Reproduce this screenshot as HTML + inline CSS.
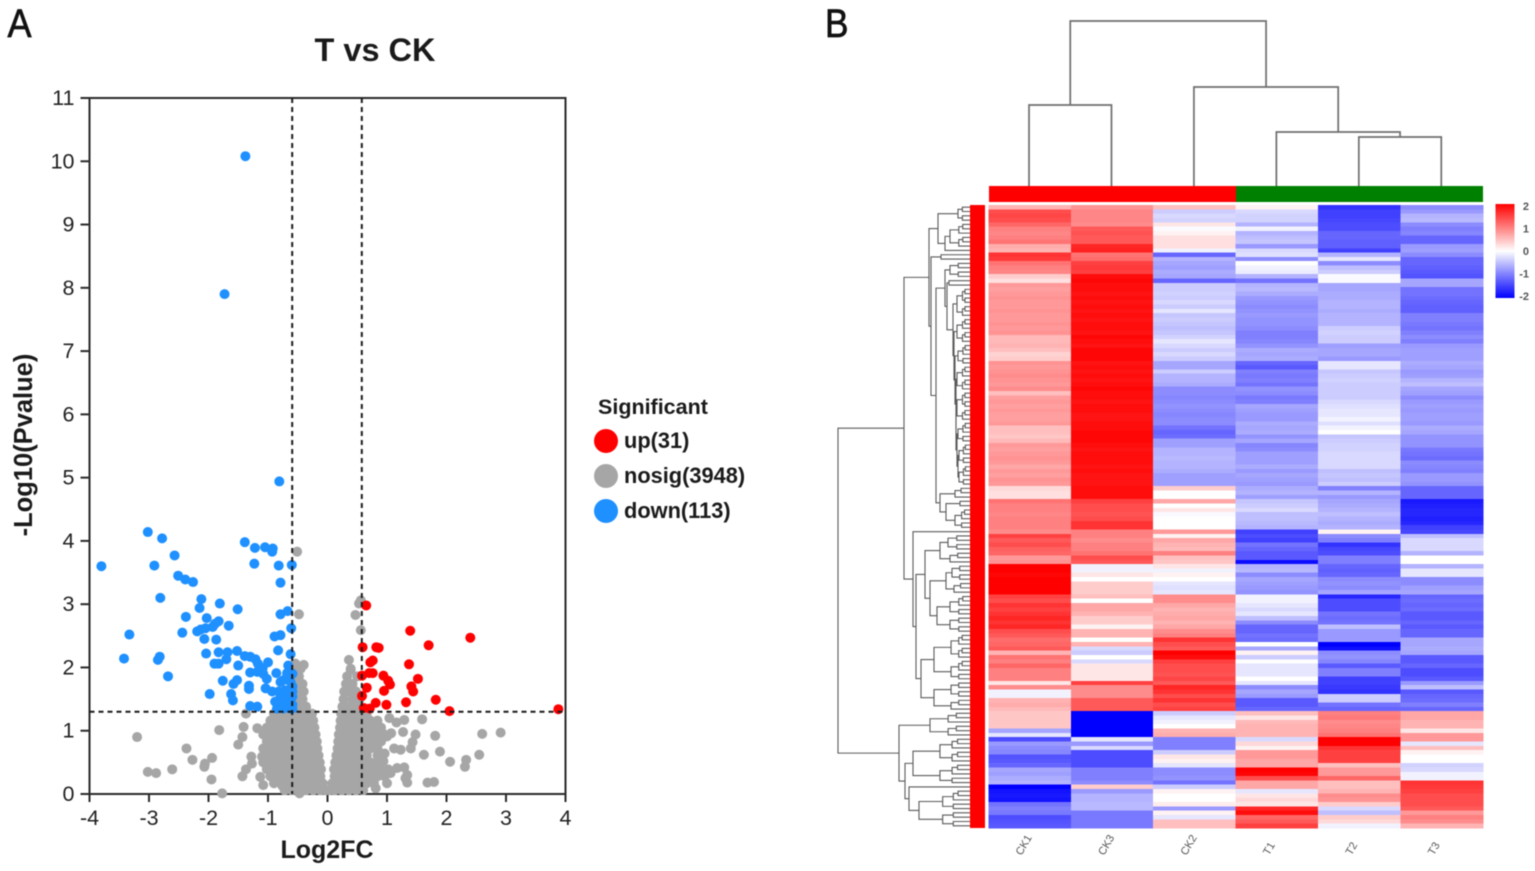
<!DOCTYPE html>
<html lang="en">
<head>
<meta charset="utf-8">
<title>Volcano plot and heatmap: T vs CK</title>
<style>
html,body{margin:0;padding:0;background:#fff;}
svg{display:block;filter:blur(0.55px);}
text{font-family:"Liberation Sans",sans-serif;}
</style>
</head>
<body>
<svg id="figure" width="1535" height="871" viewBox="0 0 1535 871" xmlns="http://www.w3.org/2000/svg">
  <defs>
    <linearGradient id="cbar" x1="0" y1="0" x2="0" y2="1">
      <stop offset="0" stop-color="#ff0000"/>
      <stop offset="0.5" stop-color="#ffffff"/>
      <stop offset="1" stop-color="#0000ff"/>
    </linearGradient>
  </defs>
  <text transform="translate(7.5,37) scale(0.9,1)" font-size="40" fill="#111" stroke="#111" stroke-width="0.7">A</text>
  <text transform="translate(825,37) scale(0.88,1)" font-size="40" fill="#111" stroke="#111" stroke-width="0.7">B</text>
  <text x="375" y="61" font-size="32.5" font-weight="bold" text-anchor="middle" fill="#1a1a1a">T vs CK</text>
  <text x="327" y="858" font-size="25" font-weight="bold" text-anchor="middle" fill="#1a1a1a">Log2FC</text>
  <text transform="translate(32,445) rotate(-90)" font-size="25.5" font-weight="bold" text-anchor="middle" fill="#1a1a1a">-Log10(Pvalue)</text>
  <g id="volcano"></g>
  <g>
    <text x="598" y="414" font-size="21.5" font-weight="bold" fill="#1a1a1a">Significant</text>
    <circle cx="606" cy="441" r="12" fill="#ff0000"/>
    <text x="624" y="448" font-size="21.8" font-weight="bold" fill="#1a1a1a">up(31)</text>
    <circle cx="606" cy="476" r="12" fill="#a6a6a6"/>
    <text x="624" y="483" font-size="21.8" font-weight="bold" fill="#1a1a1a">nosig(3948)</text>
    <circle cx="606" cy="511" r="12" fill="#1e90ff"/>
    <text x="624" y="518" font-size="21.8" font-weight="bold" fill="#1a1a1a">down(113)</text>
  </g>
  <g id="heatmap"></g>
  <rect x="970" y="205" width="15" height="623" fill="#ff0000"/>
  <rect x="989" y="186" width="247" height="16" fill="#ff0000"/>
  <rect x="1236" y="186" width="247" height="16" fill="#008000"/>
  <g id="colDendro"></g>
  <g id="rowDendro"></g>
  <rect x="1495.5" y="204" width="19" height="94" fill="url(#cbar)"/>
  <g id="colorbarTicks"></g>
</svg>
<script>
var xTicks = [-4,-3,-2,-1,0,1,2,3,4];
var yTicks = [0,1,2,3,4,5,6,7,8,9,10,11];
var fcThresholds = [-0.585,0.585];
var pThreshold = 1.3;

var upPoints = [[.65,2.98],[1.39,2.58],[2.40,2.47],[1.70,2.35],[.59,2.32],[.82,2.32],[.86,2.31],[.76,2.11],[.72,2.08],[1.37,2.05],[.58,1.87],[.70,1.91],[.76,1.91],[.94,1.87],[1.02,1.79],[1.52,1.82],[1.05,1.73],[.66,1.68],[.95,1.63],[1.41,1.70],[1.44,1.62],[.58,1.55],[1.82,1.49],[.81,1.44],[1.32,1.45],[.99,1.41],[.61,1.36],[.71,1.35],[2.05,1.31],[3.88,1.34]];

var downPoints = [[-1.38,10.08],[-1.73,7.90],[-.81,4.94],[-3.02,4.14],[-2.78,4.04],[-2.57,3.77],[-3.80,3.60],[-2.91,3.61],[-2.51,3.45],[-2.39,3.39],[-2.26,3.35],[-2.81,3.10],[-2.12,3.08],[-2.15,2.94],[-1.81,3.01],[-1.51,2.92],[-2.38,2.80],[-2.03,2.78],[-1.83,2.73],[-1.89,2.69],[-1.93,2.64],[-2.05,2.62],[-2.13,2.60],[-2.19,2.57],[-2.44,2.55],[-1.66,2.66],[-3.33,2.52],[-2.07,2.45],[-1.87,2.44],[-3.42,2.14],[-2.82,2.17],[-2.85,2.12],[-2.68,1.86],[-2.04,2.22],[-1.83,2.24],[-1.68,2.24],[-1.52,2.26],[-1.70,2.13],[-1.90,2.06],[-1.83,2.06],[-1.50,2.03],[-1.39,2.18],[-1.30,2.17],[-1.21,2.13],[-1.17,2.06],[-1.09,1.99],[-1.00,2.08],[-1.30,1.92],[-1.18,1.93],[-1.08,1.90],[-1.02,1.82],[-.86,1.91],[-1.76,1.79],[-1.52,1.80],[-1.58,1.74],[-1.32,1.71],[-1.32,1.66],[-1.04,1.67],[-.93,1.62],[-1.98,1.58],[-1.62,1.58],[-1.59,1.48],[-1.30,1.39],[-1.18,1.38],[-1.39,3.98],[-1.22,3.89],[-1.05,3.90],[-.92,3.88],[-.93,3.83],[-1.23,3.64],[-.82,3.61],[-.60,3.62],[-.79,3.34],[-.79,2.84],[-.67,2.89],[-.61,2.62],[-.89,2.49],[-.79,2.51],[-.83,2.27],[-.62,2.21],[-.66,2.03],[-.79,1.77],[-.68,1.91],[-.59,1.90],[-.74,1.80],[-.62,1.77],[-.59,1.70],[-.82,1.62],[-.71,1.64],[-.59,1.62],[-.59,1.54],[-.79,1.54],[-.68,1.51],[-.76,1.43],[-.65,1.43],[-.59,1.41],[-.85,1.35],[-.74,1.35],[-.62,1.35],[-.59,1.35],[-.76,1.48],[-.88,1.46]];

var nosigPoints = [
[-.72,.06],[-.60,.06],[-.48,.06],[-.36,.06],[-.24,.06],[-.12,.06],[-.03,.06],[.03,.06],
[-.90,.17],[-.78,.17],[-.66,.17],[-.54,.17],[-.42,.17],[-.30,.17],[-.18,.17],[-.08,.17],
[-.96,.28],[-.84,.28],[-.72,.28],[-.60,.28],[-.48,.28],[-.36,.28],[-.24,.28],[-.12,.28],
[-1.02,.39],[-.90,.39],[-.78,.39],[-.66,.39],[-.54,.39],[-.42,.39],[-.30,.39],[-.18,.39],[-.11,.39],
[-1.08,.50],[-.96,.50],[-.84,.50],[-.72,.50],[-.60,.50],[-.48,.50],[-.36,.50],[-.24,.50],[-.13,.50],
[-1.02,.61],[-.90,.61],[-.78,.61],[-.66,.61],[-.54,.61],[-.42,.61],[-.30,.61],[-.18,.61],[-.15,.61],
[-1.08,.72],[-.96,.72],[-.84,.72],[-.72,.72],[-.60,.72],[-.48,.72],[-.36,.72],[-.24,.72],[-.17,.72],
[-1.02,.83],[-.90,.83],[-.78,.83],[-.66,.83],[-.54,.83],[-.42,.83],[-.30,.83],[-.18,.83],
[-1.08,.94],[-.96,.94],[-.84,.94],[-.72,.94],[-.60,.94],[-.48,.94],[-.36,.94],[-.24,.94],[-.20,.94],
[-1.02,1.05],[-.90,1.05],[-.78,1.05],[-.66,1.05],[-.54,1.05],[-.42,1.05],[-.30,1.05],[-.22,1.05],
[-.96,1.16],[-.84,1.16],[-.72,1.16],[-.60,1.16],[-.48,1.16],[-.36,1.16],[-.24,1.16],
[-.90,1.27],[-.78,1.27],[-.66,1.27],[-.54,1.27],[-.42,1.27],[-.30,1.27],[-.26,1.27],
[-.60,1.38],[-.48,1.38],[-.36,1.38],[-.54,1.5],[-.42,1.5],[-.60,1.62],[-.48,1.62],[-.40,1.62],
[-.54,1.74],[-.42,1.74],[-.60,1.86],[-.48,1.86],[-.55,1.98],[-.45,1.98],[-.54,2.06],[-.40,2.04],
[-1.37,1.27],[-1.41,1.06],[-1.43,.90],[-1.50,.78],[-1.28,.59],[-1.27,.48],[-1.37,.39],[-1.43,.28],[-1.13,.27],[-1.08,.14],[-.76,.13],[-1.18,1.04],[-1.10,.59],[-.47,.01],[-1.77,.01],[-1.95,.23],[-2.06,.48],[-2.07,.43],[-1.94,.57],[-2.27,.54],[-2.37,.72],[-2.61,.39],[-2.88,.33],[-3.02,.35],[-3.20,.90],[-1.82,1.01],[-.51,3.83],[-.48,2.84],
[.12,.06],[.24,.06],[.36,.06],[.48,.06],[.60,.06],[.81,.09],
[.08,.17],[.18,.17],[.30,.17],[.42,.17],[.54,.17],[.66,.17],[.78,.17],
[.12,.28],[.24,.28],[.36,.28],[.48,.28],[.60,.28],[.72,.28],[.84,.28],[.96,.28],
[.11,.39],[.18,.39],[.30,.39],[.42,.39],[.54,.39],[.66,.39],[.78,.39],[.90,.39],[1.02,.39],
[.13,.50],[.24,.50],[.36,.50],[.48,.50],[.60,.50],[.72,.50],[.84,.50],[.94,.52],
[.15,.61],[.30,.61],[.42,.61],[.54,.61],[.66,.61],[.84,.61],[.96,.64],
[.17,.72],[.24,.72],[.36,.72],[.48,.72],[.60,.72],[.72,.72],[.84,.72],
[.18,.83],[.30,.83],[.42,.83],[.54,.83],[.66,.83],[.78,.83],[.90,.83],
[.19,.94],[.24,.94],[.36,.94],[.48,.94],[.60,.94],[.72,.94],[.84,.94],[.96,.94],
[.21,1.05],[.30,1.05],[.42,1.05],[.54,1.05],[.66,1.05],[.78,1.05],[.90,1.05],
[.22,1.16],[.36,1.16],[.48,1.16],[.60,1.16],[.72,1.16],[.84,1.16],
[.23,1.27],[.30,1.27],[.42,1.27],[.54,1.27],[.66,1.27],
[.25,1.38],[.36,1.38],[.48,1.38],[.27,1.5],[.42,1.5],[.54,1.5],[.28,1.62],[.36,1.62],[.48,1.62],
[.31,1.74],[.42,1.74],[.33,1.86],[.50,1.86],[.39,1.98],
[1.04,1.20],[1.16,1.13],[1.29,1.17],[1.59,1.18],[1.27,.98],[1.48,.94],[1.81,.92],[2.60,.95],[2.91,.97],[1.07,.96],[1.0,.91],[1.43,.82],[1.40,.72],[1.12,.72],[1.23,.70],[1.62,.62],[1.89,.67],[2.06,.51],[2.33,.54],[2.31,.43],[2.55,.62],[1.29,.42],[1.34,.30],[1.34,.18],[1.68,.18],[1.79,.19],[1.06,.33],[1.0,.17],[1.17,.41],[1.31,.25],
[.56,3.06],[.53,3.01],[.47,2.83],[.56,2.59],[.36,2.12],[.39,1.96]
];

var sampleLabels = ["CK1","CK3","CK2","T1","T2","T3"];
var colorbarLabels = [2,1,0,-1,-2];

var valuesCK1 = [
.6,1.4,1.45,1.4,1.2,1.0,.95,1.0,1.1,.65,
.6,1.6,1.55,1.1,1.0,.95,.4,.25,.8,.75,
.8,.85,.8,.8,.85,.8,.8,.85,.8,.85,
.55,.55,.6,.5,.35,.4,.85,.8,.85,.9,
.85,.8,.9,.5,.75,.8,.75,.8,.75,.75,
.8,.5,.5,.45,.55,.8,.75,.8,.85,.8,
.7,.8,.75,.85,.8,.3,.25,.25,1.1,1.0,
1.0,.95,1.0,1.0,1.0,.9,1.5,1.3,1.4,1.25,
1.2,.8,.85,2,2,1.95,2,2,2,2,
1.5,1.4,1.6,1.5,1.6,1.7,1.6,1.7,1.4,1.3,
1.15,1.2,1.3,.6,1.1,1.0,1.2,1.0,1.0,1.0,
.2,.9,-.1,-.1,.6,.65,.55,.45,.45,.45,
.45,-.7,-.2,-1.4,-.8,-.9,-.95,-1.35,-1.3,-1.2,
-.7,-.75,-.65,-.6,-2,-1.85,-1.8,-1.85,-1.1,-1,
-1.05,-1.4,-1.35,-1.3];
var valuesCK3 = [
.85,.95,.95,.95,.9,1.3,1.35,1.3,1.3,1.7,
1.75,1.1,1.15,1.5,1.55,1.5,1.9,1.95,1.9,1.9,
1.85,1.9,1.85,1.9,1.85,1.9,1.85,1.9,1.9,1.85,
1.95,1.9,1.85,1.95,1.95,1.95,1.85,1.9,1.85,1.9,
1.85,1.9,1.95,1.9,1.9,1.85,1.9,1.9,1.85,1.85,
1.9,1.9,1.95,1.95,1.95,1.9,1.85,1.9,1.9,1.9,
1.85,1.9,1.85,1.85,1.85,1.9,1.9,1.9,1.5,1.4,
1.4,1.35,1.4,1.6,1.6,1.0,1.0,.9,1.0,1.0,
1.1,1.4,1.3,-.1,-.1,.2,0,.4,.4,.4,
.5,0,.7,.7,.6,.4,.4,.1,.6,.6,
0,.6,-.3,-.4,0,-.3,.2,.2,.2,.2,
1.5,.9,.9,.9,1.3,1.3,1.3,-2,-2,-2,
-2,-2,-2,-.2,-.8,-.3,-1.4,-1.4,-1.4,-1.4,
-1,-1,-1,-.9,.4,-.8,-.6,-.6,-.55,-.55,
-1.05,-1.05,-1.05,-1.05];
var valuesCK2 = [
.5,-.4,-.3,-.35,.2,-.03,.1,.25,.25,.25,
-.1,-1.2,-.6,-.7,-.75,-.65,-.7,-1.2,-.4,-.4,
-.35,-.4,-.3,-.4,-.2,-.45,-.4,-.45,-.5,-.45,
-.35,-.2,-.3,-.4,-.3,-.4,-.7,-.7,-.4,-.6,
-.6,-.65,-.9,-.9,-.95,-.9,-.85,-.9,-.95,-.9,
-.9,-1.1,-1.2,-1.15,-.75,-.75,-.6,-.6,-.55,-.6,
-.6,-.65,-.75,-.75,-.75,.4,0,0,.7,0,
.2,-.05,0,0,0,.8,.1,.7,.6,.55,
1.0,.5,.45,.2,-.1,.1,0,-.2,-.25,-.2,
.9,.9,.7,.6,.65,.7,.6,.7,.9,1.0,
1.6,1.4,1.3,2,1.9,1.5,1.4,1.4,1.35,1.45,
1.3,1.7,1.6,1.4,1.6,1.4,1.5,-.4,-.2,-.1,
0,.6,.65,-1,-1,-1,-.4,.2,.1,-.2,
-.9,-.9,-.85,-1.1,-.4,.1,0,0,.15,-.8,
.1,-.2,.5,.5];
var valuesT1 = [
.1,-.3,-.35,-.35,-.6,-.1,-.6,-.5,-.45,-.8,
-.3,-.25,-.9,0,-.1,-.15,-.6,-1.1,-.6,-.55,
-.65,-.8,-.85,-.9,-.85,-.8,-.85,-.85,-.9,-1,
-1,-.95,-.85,-.65,-.7,-.65,-1.2,-1.3,-1,-1.05,
-1,-1.1,-.85,-.9,-1.05,-1,-.7,-.75,-.8,-.8,
-.65,-.7,-.65,-.85,-.7,-.95,-.9,-.75,-.75,-.75,
-.65,-.8,-.7,-.75,-.8,-.65,-.6,-.75,-.45,-.4,
-.3,-.5,-.5,-.55,-.6,-1.5,-1.4,-1.5,-1.1,-1.2,
-1.3,-1.3,-1.9,-.6,-.55,-.9,-.7,-.75,-.8,-.85,
-.1,-.1,-.2,-.3,-.2,-.5,-.9,-1.2,-1.2,-1.1,
-1.15,0,-.7,.1,-.4,0,-.2,-.2,-.2,0,
-.2,-.9,-.7,-.8,-1.3,-1.3,-1.2,.5,.2,.55,
.6,.6,.6,-.3,.3,.1,.8,.8,.7,.7,
2,1.95,1.4,.7,.7,-.2,.2,.3,.2,1.7,
1.9,1.2,1.3,1.5];
var valuesT2 = [
-1.6,-1.5,-1.5,-1.45,-1.4,-1.4,-1.2,-1.2,-1.25,-1.25,
-1.5,-.6,-.2,-.9,-.5,-.4,-.05,-.05,-.7,-.7,
-.65,-.65,-.6,-.6,-.65,-.6,-.6,-.6,-.4,-.35,
-.4,-.4,-.75,-.7,-.7,-.8,-.2,-.2,-.45,-.4,
-.35,-.4,-.4,-.4,-.4,-.3,-.25,-.2,-.2,-.1,
-.25,-.1,0,-.45,-.4,-.35,-.35,-.3,-.3,-.3,
-.3,-.5,-.45,-.5,-.4,-1,-.6,-.8,-.7,-.65,
-.6,-.5,-.6,-.65,-.6,.1,-.9,-1,-1.6,-1.45,
-1.4,-1,-1,-1.2,-1.25,-1.2,-.9,-.85,-.9,-.7,
-1.7,-1.4,-1.4,-1.4,-1.1,-1.15,-1.1,-.5,-.8,-.8,
-.8,-2,-1.9,-.9,-.85,-.95,-1.3,-1,-1,-1.5,
-1.5,-1.55,-1.6,-.4,-.4,-1.1,-1.2,1,1.05,.9,
.95,1,1.1,2,2,1.6,1.5,1.5,1.5,.5,
.8,.8,1.2,.5,.5,.6,.9,.85,.4,-.3,
-.5,.4,.3,-.1];
var valuesT3 = [
-.9,-.8,-.6,-.55,-.9,-1,-.95,-1.2,-1.2,-.8,
-.75,-.9,-1.2,-1.2,-1.25,-1.3,-1.35,-.7,-.7,-1.1,
-1.1,-1.15,-1.2,-1.25,-1.25,-1,-1,-1.05,-1.1,-1,
-.9,-1,-.8,-.75,-.75,-.75,-.65,-.7,-.8,-.75,
-.6,-.5,-.7,-.75,-.9,-.8,-.75,-.8,-.75,-.75,
-.8,-.65,-.7,-.85,-.85,-.85,-1.05,-1.1,-1.15,-.9,
-.95,-1,-.8,-.8,-.85,-1.2,-1.2,-1.2,-1.8,-1.75,
-1.7,-1.7,-1.75,-1.7,-1.5,-1.45,-.5,-.3,-.3,-.3,
-.6,0,0,-.6,-.2,-.2,-.9,-.9,-.75,-.7,
-1.2,-1.15,-1.2,-1.15,-1.3,-1.3,-1.2,-1.3,-1.2,-1.2,
-.7,-.7,-.65,-.7,-1.3,-1.3,-1.2,-1.4,-1.4,-1.3,
-.8,-.5,-1.3,-1.2,-1.15,-1,-1.2,.7,.7,.6,
.6,.2,.8,.8,-.2,.5,.1,0,0,-.35,
-.3,-.1,-.1,1.6,1.55,1.5,1.4,1.4,1.4,1.3,
.8,1,.9,.6];
var heatColumns = [valuesCK1,valuesCK3,valuesCK2,valuesT1,valuesT2,valuesT3];

// column linkage: [merge height, left child, right child]; a number is a column position
var columnTree = [165,[81,0,1],[99,2,[54,3,[49,4,5]]]];

var NS = "http://www.w3.org/2000/svg";
function mk(parent, tag, attrs, txt){
  var el = document.createElementNS(NS, tag);
  for (var k in attrs) el.setAttribute(k, attrs[k]);
  if (txt !== undefined) el.textContent = txt;
  parent.appendChild(el);
  return el;
}
var plotL = 89.5, plotR = 565.5, plotT = 98, plotB = 794;
function sx(v){ return plotL + (v + 4) / 8 * (plotR - plotL); }
function sy(v){ return plotB - v / 11 * (plotB - plotT); }

var vol = document.getElementById("volcano");

var gridFrame = mk(vol, "rect", {x:plotL,y:plotT,width:plotR-plotL,height:plotB-plotT,fill:"none",stroke:"#2a2a2a","stroke-width":2});



xTicks.forEach(function(t){
  var line = mk(vol, "line", {x1:sx(t),x2:sx(t),y1:plotB,y2:plotB+8,stroke:"#2a2a2a","stroke-width":2});
  
  
  var lab = mk(vol, "text", {x:sx(t),y:plotB+31,"font-size":21.5,"text-anchor":"middle",fill:"#222"}, String(t));
  
  
});
yTicks.forEach(function(t){
  var line = mk(vol, "line", {x1:plotL-9,x2:plotL,y1:sy(t),y2:sy(t),stroke:"#2a2a2a","stroke-width":2});
  
  
  var lab = mk(vol, "text", {x:plotL-15,y:sy(t)+7,"font-size":21.5,"text-anchor":"end",fill:"#222"}, String(t));
  
  
});
nosigPoints.forEach(function(p){
  var c = mk(vol, "circle", {cx:sx(p[0]),cy:sy(p[1]),r:5,fill:"#a6a6a6"});
  
  
});
upPoints.forEach(function(p){
  var c = mk(vol, "circle", {cx:sx(p[0]),cy:sy(p[1]),r:5,fill:"#ff0000"});
  
  
});
downPoints.forEach(function(p){
  var c = mk(vol, "circle", {cx:sx(p[0]),cy:sy(p[1]),r:5,fill:"#1e90ff"});
  
  
});
fcThresholds.forEach(function(t){
  var l = mk(vol, "line", {x1:sx(t)-0.5,x2:sx(t)-0.5,y1:plotT,y2:plotB,stroke:"#1a1a1a","stroke-width":2,"stroke-dasharray":"5 4"});
  
  
});
var hLine = mk(vol, "line", {x1:plotL,x2:plotR,y1:sy(pThreshold),y2:sy(pThreshold),stroke:"#1a1a1a","stroke-width":2,"stroke-dasharray":"5 4"});



/* heatmap */
var heat = document.getElementById("heatmap");
var heatL = 988.3, heatR = 1483, heatT = 205, heatB = 828;
var rowCount = valuesCK1.length;
var cellW = (heatR - heatL) / heatColumns.length;
var cellH = (heatB - heatT) / rowCount;
function colX(i){ return heatL + cellW * i; }
function rowY(i){ return heatT + cellH * i; }
function valueColor(v){
  var t = Math.min(1, Math.abs(v) / 2);
  var o = Math.round(255 * (1 - t));
  return v >= 0 ? "rgb(255," + o + "," + o + ")" : "rgb(" + o + "," + o + ",255)";
}
heatColumns.forEach(function(col, c){
  col.forEach(function(v, r){
    var cell = mk(heat, "rect", {x:colX(c),y:rowY(r),width:cellW+0.3,height:cellH+0.4,fill:valueColor(v),"shape-rendering":"crispEdges"});
    
    
  });
});
sampleLabels.forEach(function(s, i){
  var cx = colX(i) + cellW / 2 - 8;
  var lab = mk(heat, "text", {transform:"translate(" + cx + ",856) rotate(-60)","font-size":11,fill:"#555"}, s);
  
  
});

/* column dendrogram */
var cd = document.getElementById("colDendro");
var cdBase = 186;
function cdLayout(node){
  if (typeof node === "number") return {x: colX(node) + cellW / 2 - 0.5, y: cdBase};
  var a = cdLayout(node[1]), b = cdLayout(node[2]), y = cdBase - node[0];
  var d = "M" + a.x + " " + a.y + "V" + y + "H" + b.x + "V" + b.y;
  var p = mk(cd, "path", {d:d,fill:"none",stroke:"#6e6e6e","stroke-width":1.7});
  
  
  return {x:(a.x + b.x) / 2, y:y};
}
cdLayout(columnTree);

/* row dendrogram: [split x, top child, bottom child]; 0 is a leaf row */
function grp(n, x0, x1){
  if (n === 1) return 0;
  var a = Math.ceil(n / 2), nx = x0 + (x1 - x0) * 0.55;
  return [x0, grp(a, nx, x1), grp(n - a, nx, x1)];
}
function comb(n, x0, x1){
  if (n === 1) return 0;
  return [x0, 0, comb(n - 1, x0 + (x1 - x0) / (n - 1), x1)];
}
var denseRows = [953,grp(7,957,967),[954,grp(6,957,967),[955,grp(5,958,967),[956,grp(6,957,967),[956,grp(7,957,967),[957,grp(5,958,967),[958,grp(5,959,967),grp(5,959,967)]]]]]]];
var rowM = [945,grp(4,950,965),[947,[949,0,0],denseRows]];
var rowB = [940,grp(3,955,966),[946,grp(2,960,966),grp(5,955,967)]];
var rowA = [929,[938,grp(4,958,966),[945,grp(6,950,966),0]],[931,[941,0,0],[936,rowM,rowB]]];
var rowC1 = [925,[940,grp(4,948,964),grp(3,950,964)],[930,[946,grp(4,952,966),grp(3,954,966)],[937,grp(5,950,966),grp(4,950,966)]]];
var rowC2 = [921,grp(11,934,965),grp(7,934,965)];
var rowC = [913,0,[916,rowC1,rowC2]];
var rowD = [899,grp(6,930,963),[905,grp(11,913,962),[909,0,grp(9,919,962)]]];
var rowTree = [838,[904,rowA,rowC],rowD];

var rd = document.getElementById("rowDendro");
var leafX = 970, leafCursor = 0;
function rdLayout(node){
  if (node === 0) { var y = rowY(leafCursor) + cellH / 2; leafCursor++; return {x:leafX, y:y}; }
  var a = rdLayout(node[1]), b = rdLayout(node[2]), x = node[0];
  var d = "M" + a.x + " " + a.y + "H" + x + "V" + b.y + "H" + b.x;
  var p = mk(rd, "path", {d:d,fill:"none",stroke:"#5a5a5a","stroke-width":1.1});
  
  
  return {x:x, y:(a.y + b.y) / 2};
}
rdLayout(rowTree);

/* colorbar */
var cbt = document.getElementById("colorbarTicks");
function cbY(v){ return 251 - v * 22.5; }
colorbarLabels.forEach(function(v){
  var lab = mk(cbt, "text", {x:1529,y:cbY(v)+4,"font-size":11,"font-weight":"bold","text-anchor":"end",fill:"#555"}, String(v));
  
  
});
</script>
</body>
</html>
